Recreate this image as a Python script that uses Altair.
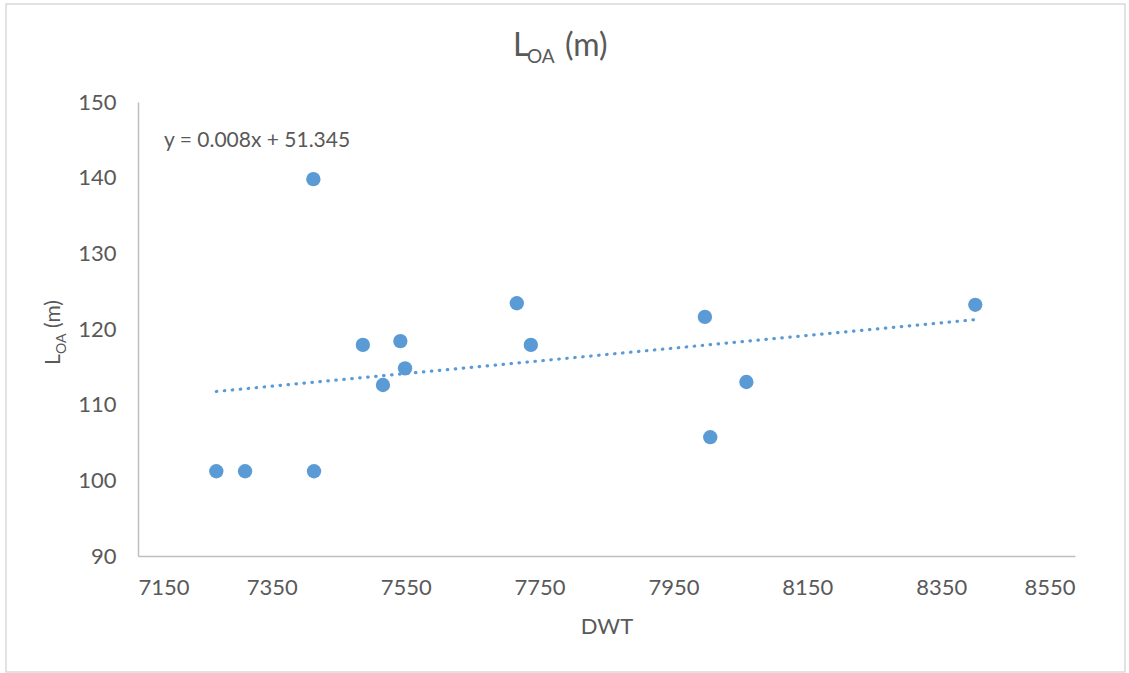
import altair as alt
import pandas as pd

# Deadweight tonnage and length overall of the sample vessels
dwt = [7267, 7310, 7413, 7412, 7486, 7516, 7542, 7549, 7716, 7737, 7997, 8005, 8059, 8401]
loa = [101.2, 101.2, 101.2, 139.8, 117.9, 112.6, 118.4, 114.8, 123.4, 117.9, 121.6, 105.7, 113.0, 123.2]

x_ticks = [7150, 7350, 7550, 7750, 7950, 8150, 8350, 8550]
y_ticks = [90, 100, 110, 120, 130, 140, 150]
equation = "y = 0.008x + 51.345"

df = pd.DataFrame({"dwt": dwt, "loa": loa})

FONT = "Lato"
GREY = "#595959"
BLUE = "#5B9BD5"
W, H = 937, 454

x_enc = alt.X("dwt:Q", scale=alt.Scale(domain=[7150, 8550], nice=False, zero=False),
              axis=alt.Axis(values=x_ticks, title="DWT", format="d"))
y_enc = alt.Y("loa:Q", scale=alt.Scale(domain=[90, 150], nice=False, zero=False),
              axis=alt.Axis(values=y_ticks, title=None, format="d"))

base = alt.Chart(df)

points = base.mark_circle(size=205, color=BLUE, opacity=1).encode(x=x_enc, y=y_enc)

trend = base.transform_regression("dwt", "loa").mark_line(
    color=BLUE, strokeWidth=3.2, strokeDash=[0.5, 7.5], strokeCap="round"
).encode(x=x_enc, y=y_enc)

one = alt.Data(values=[{}])

def label(text, x, y, size, angle=0):
    return alt.Chart(one).mark_text(
        text=text, font=FONT, fontSize=size, color=GREY,
        align="left", baseline="alphabetic", angle=angle
    ).encode(x=alt.value(x), y=alt.value(y))

# chart title: L with subscript OA, then (m)
title_parts = [
    label("L", 375, -46, 32),
    label("OA", 389, -39, 19),
    label("(m)", 427, -46, 32),
]

# rotated y-axis title with the same subscript
ytitle_parts = [
    label("L", -78, 263, 21, angle=270),
    label("OA", -72, 252, 14, angle=270),
    label("(m)", -78, 226, 21, angle=270),
]

eq = label(equation, 26, 45, 21)

frame = alt.Chart(one).mark_rect(fill="white", fillOpacity=0, stroke="#D9D9D9", strokeWidth=1.5).encode(
    x=alt.value(-132), x2=alt.value(987), y=alt.value(-98), y2=alt.value(570)
)

chart = alt.layer(
    frame, trend, points, eq, *title_parts, *ytitle_parts
).properties(
    width=W, height=H,
    autosize=alt.AutoSizeParams(type="none"),
    padding={"left": 138, "top": 102, "right": 54, "bottom": 117},
    background="white",
).configure_view(
    stroke=None
).configure_axis(
    grid=False, ticks=False,
    domainColor="#BFBFBF", domainWidth=1.5,
    labelFont=FONT, labelFontSize=22, labelColor=GREY,
    titleFont=FONT, titleFontSize=22, titleColor=GREY, titleFontWeight="normal",
).configure_axisX(
    labelPadding=21, titlePadding=18
).configure_axisY(
    labelPadding=22
)

chart.save("out.html", embed_options={"renderer": "svg", "actions": False})
